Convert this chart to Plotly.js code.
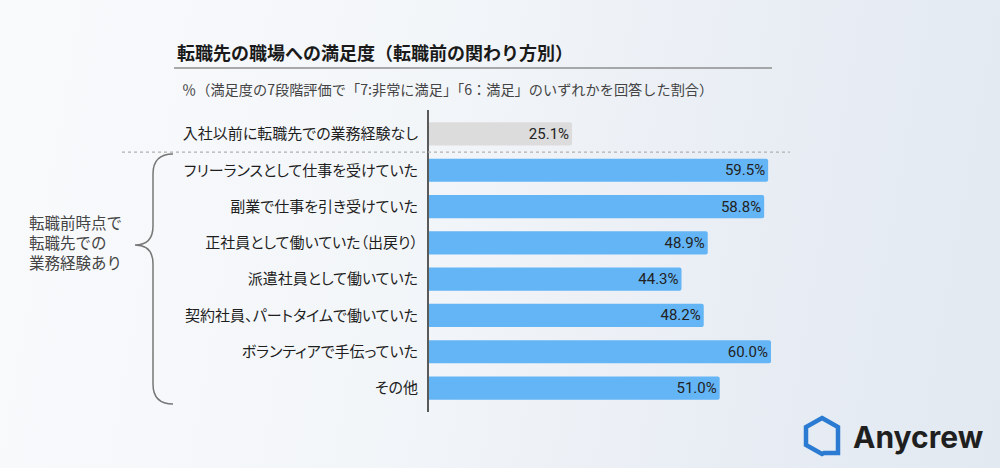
<!DOCTYPE html>
<html>
<head>
<meta charset="utf-8">
<script src="https://cdn.plot.ly/plotly-3.0.1.min.js"></script>
<style>
  html, body { margin: 0; padding: 0; }
  body {
    width: 1000px; height: 468px; overflow: hidden;
    background: linear-gradient(100deg, #f9fafc 0%, #f3f6f9 40%, #e8edf4 75%, #e2e9f1 100%);
  }
  #chart { width: 1000px; height: 468px; }
  #chart .ytick text { font-feature-settings: "palt" 1; }
</style>
</head>
<body>
<div id="chart"></div>
<script>
// ---- data ----
const categories = [
  "入社以前に転職先での業務経験なし",
  "フリーランスとして仕事を受けていた",
  "副業で仕事を引き受けていた",
  "正社員として働いていた（出戻り）",
  "派遣社員として働いていた",
  "契約社員、パートタイムで働いていた",
  "ボランティアで手伝っていた",
  "その他"
];
const values = [25.1, 59.5, 58.8, 48.9, 44.3, 48.2, 60.0, 51.0];
const groupLabel = "転職前時点で<br>転職先での<br>業務経験あり";
const titleText = "転職先の職場への満足度（転職前の関わり方別）";
const subtitleText = "％（満足度の7段階評価で「7:非常に満足」「6：満足」のいずれかを回答した割合）";
const brandText = "Anycrew";

// ---- layout geometry (pixels) ----
const W = 1000, H = 468;
const L = 429, T = 110, B = 56, R = 172;
const plotW = W - L - R, plotH = H - T - B;
const px = p => (p - L) / plotW;
const py = p => (H - B - p) / plotH;

const jp = '"Noto Sans CJK JP", "Noto Sans", sans-serif';
const barColors = values.map((v, i) => i === 0 ? '#dcdcdc' : '#64b5f6');

const trace = {
  type: 'bar',
  orientation: 'h',
  y: categories,
  x: values,
  width: 0.64,
  marker: { color: barColors, cornerradius: 2, line: { width: 0 } },
  texttemplate: '%{x:.1f}%',
  textposition: 'inside',
  insidetextanchor: 'end',
  textangle: 0,
  constraintext: 'none',
  textfont: { family: 'Roboto, sans-serif', size: 15, color: '#222' },
  hoverinfo: 'skip',
  cliponaxis: false
};

function brace() {
  const pts = [
    ['M', 173, 154], ['Q', 153, 154, 153, 174], ['L', 153, 226],
    ['Q', 153, 245, 135, 245], ['Q', 153, 245, 153, 264], ['L', 153, 384],
    ['Q', 153, 404, 173, 404]
  ];
  return pts.map(s => {
    const c = s[0]; const n = s.slice(1); const out = [];
    for (let i = 0; i < n.length; i += 2) out.push(px(n[i]).toFixed(5) + ',' + py(n[i+1]).toFixed(5));
    return c + out.join(' ');
  }).join(' ');
}

function hexLogo() {
  const p = [[822,418],[838,427],[838,453],[824,453],[822,454],[806,445],[806,427]];
  return 'M' + p.map(q => px(q[0]).toFixed(5) + ',' + py(q[1]).toFixed(5)).join(' L') + ' Z';
}

const layout = {
  width: W, height: H,
  margin: { l: L, r: R, t: T, b: B, pad: 0 },
  paper_bgcolor: 'rgba(0,0,0,0)',
  plot_bgcolor: 'rgba(0,0,0,0)',
  showlegend: false,
  xaxis: {
    range: [0, 70], showgrid: false, zeroline: false, showline: false,
    showticklabels: false, ticks: '', fixedrange: true
  },
  yaxis: {
    type: 'category', range: [7.66, -0.66],
    showgrid: false, zeroline: false,
    showline: true, linecolor: '#5a5a5a', linewidth: 2,
    ticks: '', ticklabelstandoff: 6,
    tickfont: { family: jp, size: 15, color: '#1e1e1e' },
    fixedrange: true
  },
  shapes: [
    { type: 'line', xref: 'paper', yref: 'paper', x0: px(174), x1: px(772), y0: py(68), y1: py(68),
      line: { color: '#8e8e8e', width: 1.5 } },
    { type: 'line', xref: 'paper', yref: 'y', x0: px(122), x1: px(790), y0: 0.5, y1: 0.5,
      line: { color: '#b0b0b0', width: 1.2, dash: 'dot' } },
    { type: 'path', xref: 'paper', yref: 'paper', path: brace(),
      line: { color: '#777777', width: 1.5 } },
    { type: 'path', xref: 'paper', yref: 'paper', path: hexLogo(),
      line: { color: '#2a7bd1', width: 4.5 }, fillcolor: 'rgba(0,0,0,0)' }
  ],
  annotations: [
    { text: '<b>' + titleText + '</b>', xref: 'paper', yref: 'paper', x: px(175), y: py(52),
      xanchor: 'left', yanchor: 'middle', showarrow: false,
      font: { family: jp, size: 18, color: '#1a1a1a' } },
    { text: subtitleText, xref: 'paper', yref: 'paper', x: px(180), y: py(89),
      xanchor: 'left', yanchor: 'middle', showarrow: false,
      font: { family: jp, size: 14.2, color: '#444' } },
    { text: groupLabel, xref: 'paper', yref: 'paper', x: px(27), y: py(242),
      xanchor: 'left', yanchor: 'middle', align: 'left', showarrow: false,
      font: { family: jp, size: 15.5, color: '#444' } },
    { text: '<b>' + brandText + '</b>', xref: 'paper', yref: 'paper', x: px(851), y: py(437),
      xanchor: 'left', yanchor: 'middle', showarrow: false,
      font: { family: 'Inter, "Open Sans", sans-serif', size: 30, color: '#1f1f1f' } }
  ]
};

Plotly.newPlot('chart', [trace], layout, { displayModeBar: false, staticPlot: true });
</script>
</body>
</html>
